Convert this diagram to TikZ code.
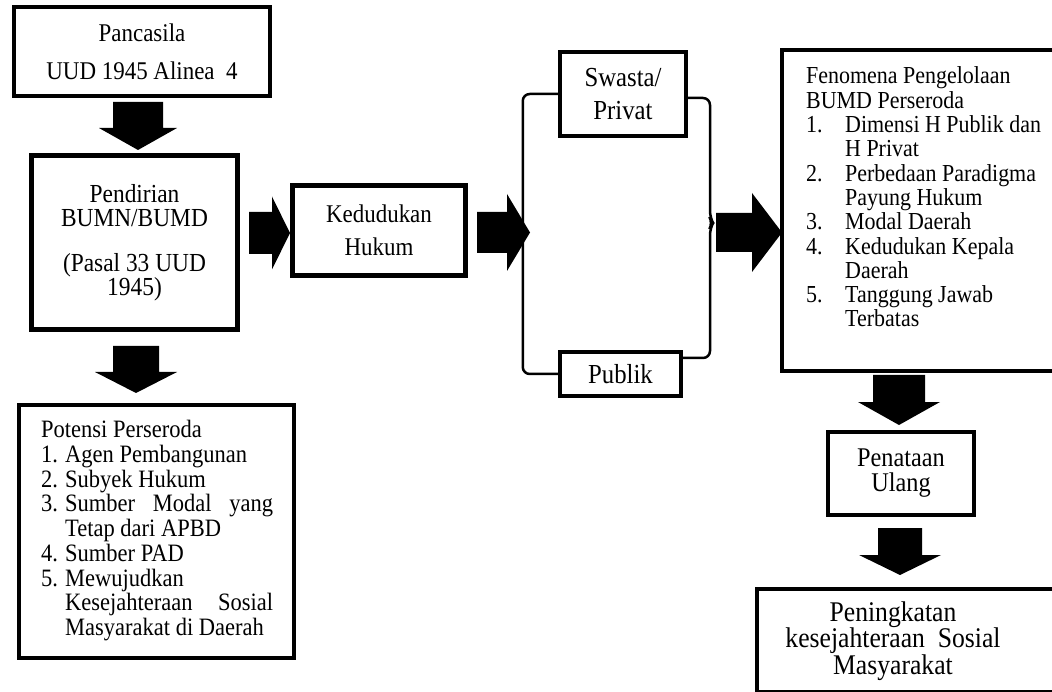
\documentclass[tikz,border=0pt]{standalone}
\usepackage{fontspec}
\setmainfont{Liberation Serif}[FakeStretch=0.9]
\usetikzlibrary{calc}
% block arrows: down {xc}{ytop}{ybase}{ytip}{shafthalf}{headhalf}
\newcommand\blkdown[6]{\fill[blk] (#1-#5,#2) -- (#1+#5,#2) -- (#1+#5,#3) -- (#1+#6,#3) -- (#1,#4) -- (#1-#6,#3) -- (#1-#5,#3) -- cycle;}
% right {xstart}{xbase}{xtip}{yc}{shafthalf}{headhalf}
\newcommand\blkright[6]{\fill[blk] (#1,#4-#5) -- (#2,#4-#5) -- (#2,#4-#6) -- (#3,#4) -- (#2,#4+#6) -- (#2,#4+#5) -- (#1,#4+#5) -- cycle;}
\begin{document}
\begin{tikzpicture}[x=1pt,y=-1pt,
  box/.style={draw, line width=4.5pt, inner sep=0pt, align=center},
  blk/.style={fill=black},
  brk/.style={line width=2.5pt, rounded corners=7pt},
  txt/.style={inner sep=0pt, align=left, anchor=north west}]
\useasboundingbox (0,0) rectangle (1052,692);
\clip (0,0) rectangle (1052,692);
\fill[white] (0,0) rectangle (1052,692);

% boxes
\node[box, minimum width=256, minimum height=89, font=\fontsize{25.5}{38}\selectfont] (pan) at (142,51.5) {Pancasila\\UUD 1945 Alinea\ \ 4};
\node[box, minimum width=206, minimum height=174, font=\fontsize{26}{24}\selectfont] (pen) at (134.5,242.5) {Pendirian\\BUMN/BUMD\\[21pt](Pasal 33 UUD\\1945)};
\node[box, minimum width=173, minimum height=90, font=\fontsize{25.5}{33}\selectfont] (ked) at (379,230.5) {Kedudukan\\Hukum};
\node[box, minimum width=126, minimum height=84, font=\fontsize{27.5}{33}\selectfont] (sw) at (623,94) {Swasta/\\Privat};
\node[box, minimum width=121, minimum height=44, font=\fontsize{27.5}{30}\selectfont] (pub) at (620.5,374) {Publik};
\node[box, minimum width=280, minimum height=321] (fen) at (922,210.5) {};
\node[box, minimum width=275, minimum height=253] (pot) at (156.5,531.5) {};
\node[box, minimum width=146, minimum height=83, font=\fontsize{27}{25}\selectfont] (pen2) at (901,473.5) {Penataan\\Ulang};
\node[box, minimum width=305, minimum height=103] (pkt) at (909.5,640.5) {};

% texts of the big boxes
\node[txt, font=\fontsize{24.4}{24.3}\selectfont] (fent) at (806,66.8) {%
Fenomena Pengelolaan\\
BUMD Perseroda\\
\makebox[39pt][l]{1.}Dimensi H Publik dan\\
\hspace*{39pt}H Privat\\
\makebox[39pt][l]{2.}Perbedaan Paradigma\\
\hspace*{39pt}Payung Hukum\\
\makebox[39pt][l]{3.}Modal Daerah\\
\makebox[39pt][l]{4.}Kedudukan Kepala\\
\hspace*{39pt}Daerah\\
\makebox[39pt][l]{5.}Tanggung Jawab\\
\hspace*{39pt}Terbatas};
\node[txt, font=\fontsize{25}{24.75}\selectfont] (pott) at (41,420) {%
Potensi Perseroda\\
\makebox[24pt][l]{1.}Agen Pembangunan\\
\makebox[24pt][l]{2.}Subyek Hukum\\
\makebox[24pt][l]{3.}\makebox[208pt][s]{Sumber Modal yang}\\
\hspace*{24pt}Tetap dari APBD\\
\makebox[24pt][l]{4.}Sumber PAD\\
\makebox[24pt][l]{5.}Mewujudkan\\
\hspace*{24pt}\makebox[208pt][s]{Kesejahteraan Sosial}\\
\hspace*{24pt}Masyarakat di Daerah};
\node[inner sep=0pt, align=center, font=\fontsize{28.5}{26.5}\selectfont] (pktt) at (893,641) {Peningkatan\\kesejahteraan\ \ Sosial\\Masyarakat};

% bracket joining Swasta/Privat and Publik
\draw[brk] (sw.west) -- ++(-35,0) |- (pub.west);
\draw[brk] ($(sw.east)+(-3,4)$) -- (710,98) -- (710,218) -- (713,223) -- (710,228) -- (710,358) -- ($(pub.east)+(-3,-16)$);

% block arrows
\blkdown{138}{102}{128}{150}{25}{39}
\blkdown{136}{346}{372}{393}{23}{41}
\blkright{249}{272}{290}{233}{21}{36.5}
\blkright{477}{507}{530}{232.5}{20.5}{38.5}
\blkright{716}{752}{782}{232.5}{19.5}{39.5}
\blkdown{899}{375}{402}{425}{26}{41}
\blkdown{900}{528}{555}{575}{22}{41}
\end{tikzpicture}
\end{document}
